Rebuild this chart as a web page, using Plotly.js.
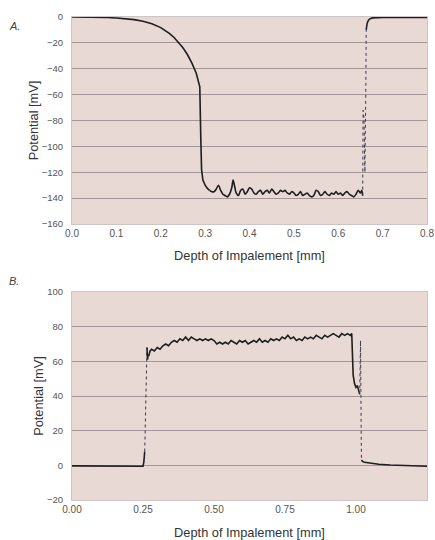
<!DOCTYPE html>
<html>
<head>
<meta charset="utf-8">
<script src="https://cdn.plot.ly/plotly-3.0.1.min.js"></script>
<style>html,body{margin:0;padding:0;background:#fff;}#chart{width:435px;height:540px;}</style>
</head>
<body>
<div id="chart"></div>
<script>
// ---- Panel A: depth (mm) vs potential (mV) ----
const aCurveX = [0.00,0.02,0.04,0.06,0.08,0.10,0.12,0.14,0.16,0.18,0.20,0.21,0.22,0.23,0.24,0.25,0.26,0.27,0.28,0.286,0.288,0.290,0.292,0.295,0.300,0.305,0.310];
const aCurveY = [0,0,-0.1,-0.2,-0.4,-0.8,-1.2,-2.0,-3.3,-5.2,-8.2,-10.2,-12.8,-15.8,-19.5,-23.8,-29,-35.5,-43.5,-50,-54,-90,-118,-126,-130,-132.5,-134];
const aFloorX = [0.310,0.315,0.320,0.325,0.330,0.335,0.340,0.345,0.350,0.355,0.360,0.363,0.366,0.370,0.375,0.380,0.385,0.390,0.395,0.400,0.405,0.410,0.415,0.420,0.425,0.430,0.435,0.440,0.445,0.450,0.455,0.460,0.465,0.470,0.475,0.480,0.485,0.490,0.495,0.500,0.505,0.510,0.515,0.520,0.525,0.530,0.535,0.540,0.545,0.550,0.555,0.560,0.565,0.570,0.575,0.580,0.585,0.590,0.595,0.600,0.605,0.610,0.615,0.620,0.625,0.630,0.635,0.640,0.645,0.650,0.653,0.655];
const aFloorY = [-134,-135,-135,-133,-130,-134,-137,-138,-139,-137,-132,-126,-130,-136,-138,-134,-133,-137,-135,-132,-133,-136,-137,-135,-134,-137,-135,-134,-136,-133,-135,-137,-136,-134,-135,-134,-136,-137,-135,-136,-138,-137,-135,-138,-137,-136,-138,-139,-138,-134,-135,-138,-137,-135,-137,-138,-136,-137,-135,-137,-136,-138,-136,-135,-137,-138,-139,-137,-134,-136,-134,-138];
const aJumpX = [0.655,0.656,0.658,0.660,0.662,0.663];
const aJumpY = [-138,-72,-78,-120,-60,-10];
const aTailX = [0.663,0.665,0.668,0.672,0.677,0.685,0.70,0.75,0.80];
const aTailY = [-10,-5,-2.5,-1.3,-0.7,-0.4,-0.3,-0.3,-0.3];
const aYTicks = [0,-20,-40,-60,-80,-100,-120,-140,-160];
const aXTicks = [0.0,0.1,0.2,0.3,0.4,0.5,0.6,0.7,0.8];

// ---- Panel B ----
const bMainX = [0.00,0.05,0.10,0.15,0.20,0.25,0.253,0.256];
const bMainY = [-0.3,-0.4,-0.5,-0.4,-0.5,-0.5,2,8];
const bJumpX1 = [0.256,0.260,0.264];
const bJumpY1 = [8,40,68];
const bPlatX = [0.264,0.266,0.268,0.27,0.275,0.28,0.29,0.30,0.31,0.32,0.33,0.34,0.35,0.36,0.37,0.38,0.39,0.40,0.41,0.42,0.43,0.44,0.45,0.46,0.47,0.48,0.49,0.50,0.51,0.52,0.53,0.54,0.55,0.56,0.57,0.58,0.59,0.60,0.61,0.62,0.63,0.64,0.65,0.66,0.67,0.68,0.69,0.70,0.71,0.72,0.73,0.74,0.75,0.76,0.77,0.78,0.79,0.80,0.81,0.82,0.83,0.84,0.85,0.86,0.87,0.88,0.89,0.90,0.91,0.92,0.93,0.94,0.95,0.96,0.97,0.98,0.985,0.988,0.990,0.995,1.000,1.005,1.010,1.013];
const bPlatY = [68,61,64,63,66,67,66,68,67,69,70,69,71,72,71,73,72,74,72,74,73,72,73,72,73,72,73,72,70,71,70,71,70,72,71,70,72,71,72,70,71,72,71,73,71,72,71,73,72,73,72,74,73,75,73,74,72,73,72,74,73,74,73,75,74,73,75,74,75,76,75,74,76,75,76,75,76,60,52,47,45,46,43,41];
const bJumpX2 = [1.013,1.016,1.019];
const bJumpY2 = [41,72,3];
const bTailX = [1.019,1.025,1.03,1.05,1.08,1.12,1.18,1.25];
const bTailY = [3,2,1.8,1.2,0.6,0.2,-0.2,-0.5];
const bYTicks = [100,80,60,40,20,0,-20];
const bXTicks = [0.00,0.25,0.50,0.75,1.00,1.25];

const lineSolid = {color:'#1e1e1e', width:1.6};
const lineSmooth = {color:'#1e1e1e', width:1.6, shape:'spline', smoothing:0.7};
const lineDot = {color:'#3a3a50', width:1, dash:'dot'};
function tr(x,y,ax,line){return {x:x,y:y,xaxis:ax[0],yaxis:ax[1],mode:'lines',line:line,hoverinfo:'skip',showlegend:false};}
const A=['x','y'], B=['x2','y2'];
const data = [
  tr(aCurveX,aCurveY,A,lineSolid), tr(aFloorX,aFloorY,A,lineSmooth), tr(aJumpX,aJumpY,A,lineDot), tr(aTailX,aTailY,A,lineSolid),
  tr(bMainX,bMainY,B,lineSolid), tr(bJumpX1,bJumpY1,B,lineDot), tr(bPlatX,bPlatY,B,lineSolid),
  tr(bJumpX2,bJumpY2,B,lineDot), tr(bTailX,bTailY,B,lineSolid)
];

const fam = 'Liberation Sans, Arial, sans-serif';
const tickFont = {family:fam, size:10, color:'#555'};
const yTickFont = {family:fam, size:9.5, color:'#555'};
const titleFont = {family:fam, size:12.8, color:'#333'};
const gridC = '#a29696';
function xax(ticks, fmt, anchor, so){return {range:[ticks[0],ticks[ticks.length-1]],tickvals:ticks,tickformat:fmt,tickfont:tickFont,showgrid:false,zeroline:false,showline:true,mirror:true,linecolor:'#cdc5c3',linewidth:1,ticks:'',anchor:anchor,title:{text:'Depth of Impalement [mm]',font:titleFont,standoff:so}};}
function yax(ticks, domain, anchor){return {range:[Math.min(...ticks),Math.max(...ticks)],tickvals:ticks,tickfont:yTickFont,showgrid:true,gridcolor:gridC,gridwidth:1,zeroline:false,showline:true,mirror:true,linecolor:'#cdc5c3',linewidth:1,ticks:'outside',ticklen:6,tickcolor:'rgba(0,0,0,0)',domain:domain,anchor:anchor,title:{text:'Potential [mV]',font:titleFont,standoff:0}};}

const layout = {
  width:435, height:540,
  margin:{l:72,r:8,t:17,b:40},
  paper_bgcolor:'#ffffff', plot_bgcolor:'#e8d9d4',
  showlegend:false,
  xaxis: xax(aXTicks,'.1f','y',13),
  yaxis: yax(aYTicks,[0.5714,1],'x'),
  xaxis2: xax(bXTicks,'.2f','y2',15),
  yaxis2: yax(bYTicks,[0,0.4306],'x2'),
  annotations:[
    {text:'<i>A.</i>',xref:'paper',yref:'paper',x:-0.182,y:0.998,xanchor:'left',yanchor:'top',showarrow:false,font:{family:fam,size:11,color:'#444'}},
    {text:'<i>B.</i>',xref:'paper',yref:'paper',x:-0.182,y:0.47,xanchor:'left',yanchor:'top',showarrow:false,font:{family:fam,size:11,color:'#444'}}
  ]
};
Plotly.newPlot('chart', data, layout, {displayModeBar:false, staticPlot:true});
</script>
</body>
</html>
